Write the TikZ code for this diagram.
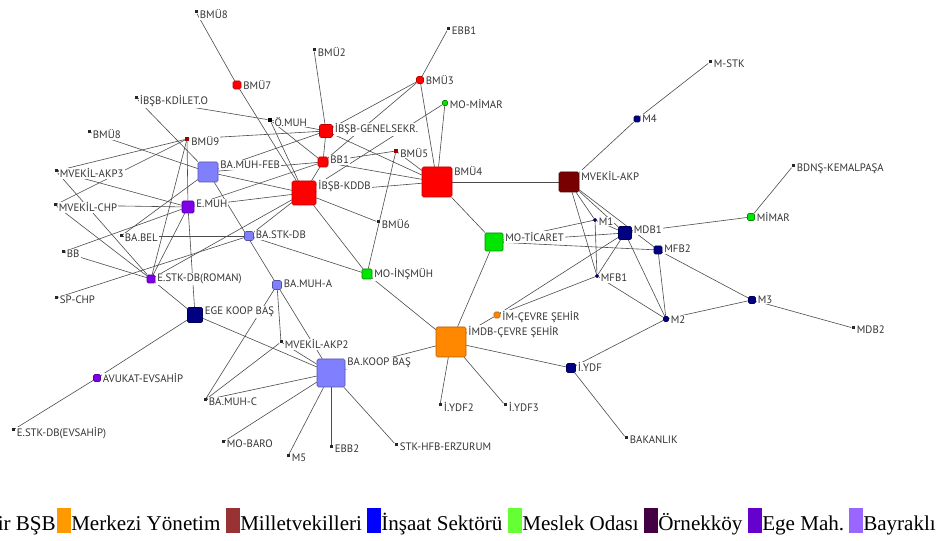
\documentclass[tikz,border=0pt]{standalone}
\usepackage{fontspec}
\setmainfont{Liberation Serif}
\newfontfamily\lblfont{PT Sans}
\usepackage{tikz}
\usetikzlibrary{backgrounds}
\usepackage{xcolor}
\definecolor{bsbred}{RGB}{255,0,0}
\definecolor{merkorange}{RGB}{255,136,0}
\definecolor{mvmaroon}{RGB}{120,0,0}
\definecolor{insnavy}{RGB}{0,0,128}
\definecolor{meslekgreen}{RGB}{0,230,0}
\definecolor{egepurple}{RGB}{125,0,230}
\definecolor{baylav}{RGB}{128,128,255}
\definecolor{lgorange}{RGB}{255,153,0}
\definecolor{lgmaroon}{RGB}{153,51,51}
\definecolor{lgblue}{RGB}{0,0,255}
\definecolor{lggreen}{RGB}{102,255,51}
\definecolor{lgork}{RGB}{68,0,68}
\definecolor{lgege}{RGB}{102,0,204}
\definecolor{lgbay}{RGB}{153,102,255}
\tikzset{
  nd/.style={rectangle, inner sep=0pt, minimum size=#1*0.75pt},
  bsb/.style={nd=#1, fill=bsbred, draw=bsbred!75!black, rounded corners=1.2pt},
  merk/.style={nd=#1, fill=merkorange, draw=merkorange!70!black, rounded corners=1.2pt},
  mv/.style={nd=#1, fill=mvmaroon, draw=mvmaroon!70!black, rounded corners=1.2pt},
  ins/.style={nd=#1, fill=insnavy, draw=insnavy!70!black, rounded corners=1pt},
  meslek/.style={nd=#1, fill=meslekgreen, draw=meslekgreen!60!black, rounded corners=1pt},
  ege/.style={nd=#1, fill=egepurple, draw=egepurple!70!black, rounded corners=1pt},
  bay/.style={nd=#1, fill=baylav, draw=baylav!65!black, rounded corners=1.2pt},
  dot/.style={nd=3, fill=black!85},
  reddot/.style={nd=4, fill=bsbred!60!black},
  lbltext/.style={anchor=north west, inner sep=0.8pt, fill=white, text=black!80,
    font=\lblfont\fontsize{8.1}{9}\selectfont, yshift=1.4pt, xshift=0.6pt},
  lb/.style={label={[lbltext]north east:#1}},
  edge/.style={black!70, line width=0.45pt},
  lgbox/.style={minimum width=14*0.75pt, minimum height=25*0.75pt, inner sep=0pt, anchor=south west}
}
\begin{document}
\begin{tikzpicture}[x=0.75pt, y=-0.75pt]
  \useasboundingbox (0,0) rectangle (943,541);
  % izmir bsb
  \node[dot, lb=BMÜ8] (bmuA) at (196,12) {};
  \node[dot, lb=BMÜ2] (bmuB) at (314,50) {};
  \node[dot, lb=EBB1] (ebbA) at (448,29) {};
  \node[bsb=8, lb=BMÜ7] (bmuC) at (237,85) {};
  \node[bsb=7, lb=BMÜ3] (bmuD) at (420,80) {};
  \node[dot, lb=İBŞB-KDİLET.O] (kdilet) at (136,98) {};
  \node[nd=4.5, fill=black, lb=Ö.MUH] (omuh) at (270,120) {};
  \node[dot, lb=BMÜ8] (bmuE) at (89,132) {};
  \node[reddot, lb=BMÜ9] (bmuF) at (187,139) {};
  \node[bsb=13, lb=İBŞB-GENELSEKR.] (genel) at (326,131) {};
  \node[reddot, lb=BMÜ5] (bmuG) at (396,151) {};
  \node[bsb=10, lb=BB1] (bbA) at (323,162) {};
  \node[bsb=24, lb=İBŞB-KDDB] (kddb) at (304,193) {};
  \node[bsb=30, lb=BMÜ4] (bmuH) at (437,182) {};
  \node[dot, lb=BMÜ6] (bmuI) at (378,222) {};
  % meslek odasi
  \node[meslek=5, lb=MO-MİMAR] (momimar) at (445,103) {};
  \node[meslek=7, lb=MİMAR] (mimar) at (751,217) {};
  \node[meslek=18, lb=MO-TİCARET] (moticaret) at (494,242) {};
  \node[meslek=10, lb=MO-İNŞMÜH] (moinsmuh) at (367,274) {};
  \node[dot, lb=MO-BARO] (mobaro) at (223,442) {};
  % milletvekilleri
  \node[mv=20, lb=MVEKİL-AKP] (mvakp) at (569,182) {};
  \node[dot, lb=MVEKİL-AKP3] (mvakpC) at (56,171) {};
  \node[dot, lb=MVEKİL-CHP] (mvchp) at (55,205) {};
  \node[dot, lb=MVEKİL-AKP2] (mvakpB) at (281,342) {};
  \node[dot, lb=SP-CHP] (spchp) at (56,298) {};
  % insaat sektoru
  \node[dot, lb=M-STK] (mstk) at (710,62) {};
  \node[ins=6, lb=M4] (mA) at (637,119) {};
  \node[dot, lb=BDNŞ-KEMALPAŞA] (bdns) at (793,166) {};
  \node[ins=3, lb=M1] (mB) at (595,220) {};
  \node[ins=13, lb=MDB1] (mdbA) at (625,233) {};
  \node[ins=8, lb=MFB2] (mfbB) at (658,250) {};
  \node[ins=3, lb=MFB1] (mfbA) at (597,276) {};
  \node[ins=7, lb=M3] (mC) at (752,300) {};
  \node[ins=5, lb=M2] (mD) at (666,319) {};
  \node[dot, lb=MDB2] (mdbB) at (853,328) {};
  \node[ins=9, lb=İ.YDF] (iydf) at (571,368) {};
  \node[ins=15, lb=EGE KOOP BAŞ] (egekoop) at (195,315) {};
  % merkezi yonetim
  \node[merk=6, lb=İM-ÇEVRE ŞEHİR] (imcevre) at (497,315) {};
  \node[merk=30, lb=İMDB-ÇEVRE ŞEHİR] (imdb) at (451,342) {};
  \node[dot, lb=İ.YDF2] (iydfB) at (440,405) {};
  \node[dot, lb=İ.YDF3] (iydfC) at (505,405) {};
  \node[dot, lb=BAKANLIK] (bakanlik) at (626,438) {};
  % ege mah.
  \node[ege=12, lb=E.MUH] (emuh) at (188,207) {};
  \node[ege=8, lb=E.STK-DB(ROMAN)] (estkrom) at (151,279) {};
  \node[ege=7, lb=AVUKAT-EVSAHİP] (avukat) at (97,378) {};
  \node[dot, lb=E.STK-DB(EVSAHİP)] (estkev) at (13,430) {};
  % bayrakli
  \node[bay=20, lb=BA.MUH-FEB] (muhfeb) at (208,172) {};
  \node[dot, lb=BA.BEL] (babel) at (121,236) {};
  \node[bay=9, lb=BA.STK-DB] (bastk) at (249,236) {};
  \node[dot, lb=BB] (bb) at (63,252) {};
  \node[bay=9, lb=BA.MUH-A] (muha) at (277,285) {};
  \node[bay=28, lb=BA.KOOP BAŞ] (bakoop) at (331,373) {};
  \node[dot, lb=BA.MUH-C] (muhc) at (205,400) {};
  \node[dot, lb=EBB2] (ebbB) at (331,447) {};
  \node[dot, lb=STK-HFB-ERZURUM] (stkhfb) at (396,445) {};
  \node[dot, lb=M5] (mE) at (288,456) {};
  % ties
  \begin{pgfonlayer}{background}
    \fill[white] (0,0) rectangle (943,541);
    \foreach \a/\b in {bmuA/bmuC, bmuC/kddb, bmuB/genel, genel/bbA, ebbA/bmuD,
        bmuD/genel, bmuD/bbA, bmuD/bmuH, momimar/bmuH, momimar/kddb, genel/bmuH,
        bbA/bmuG, bbA/bmuH, bmuG/bmuH, bmuG/moinsmuh, kddb/bmuI, kddb/moinsmuh,
        kddb/bmuH, kddb/bbA, kdilet/omuh, kdilet/muhfeb, omuh/genel, omuh/bbA,
        omuh/kddb, bmuF/genel, bmuF/mvakpC, bmuF/mvchp, bmuF/emuh, bmuF/estkrom,
        bmuE/muhfeb, muhfeb/bbA, muhfeb/genel, muhfeb/kddb, muhfeb/muha,
        emuh/kddb, emuh/bbA, mvchp/emuh, mvakpC/emuh, bb/emuh, babel/muhfeb,
        babel/bastk, mvakpC/estkrom, mvchp/estkrom, bb/estkrom, spchp/bastk,
        estkrom/emuh, estkrom/egekoop, estkrom/kddb, emuh/egekoop,
        bastk/moinsmuh, bastk/kddb}
      \draw[edge] (\a) -- (\b);
    \foreach \a/\b in {muha/mvakpB, muha/bakoop, muha/muhc, muhc/mvakpB,
        muhc/bakoop, mobaro/bakoop, mE/bakoop, ebbB/bakoop, stkhfb/bakoop,
        mvakpB/bakoop, egekoop/bakoop, egekoop/avukat, avukat/estkev,
        bakoop/imdb, imdb/moinsmuh, imdb/moticaret, imdb/iydfB, imdb/iydfC,
        imdb/iydf, imdb/imcevre, iydf/bakanlik, iydf/mD, imcevre/mfbA,
        imcevre/mdbA, mvakp/bmuH, mvakp/mA, mA/mstk, mvakp/mB, mvakp/mdbA,
        mvakp/mfbA, mvakp/mfbB, moticaret/bmuH, moticaret/mB, moticaret/mdbA,
        moticaret/mfbB, mB/mfbA, mB/mdbA, mdbA/mfbA, mdbA/mD, mdbA/mimar,
        mimar/bdns, mfbB/mD, mfbB/mC, mC/mD, mC/mdbB, mfbA/mD}
      \draw[edge] (\a) -- (\b);
  \end{pgfonlayer}
  % legend
  \node[anchor=base east, inner sep=0pt, font=\fontsize{15.8}{18}\selectfont] (lgbsb) at (56,531) {ir BŞB};
  \foreach \c/\x/\t [count=\i] in {lgorange/57/Merkezi Yönetim, lgmaroon/226/Milletvekilleri,
      lgblue/367/İnşaat Sektörü, lggreen/508/Meslek Odası, lgork/644/Örnekköy,
      lgege/748/Ege Mah., lgbay/849/Bayraklı}{
    \node[lgbox, fill=\c] (lgbox\i) at (\x,533) {};
    \node[anchor=base west, inner sep=0pt, font=\fontsize{15.8}{18}\selectfont] (lgtext\i) at (\x+14,531) {\t};
  }
\end{tikzpicture}
\end{document}
